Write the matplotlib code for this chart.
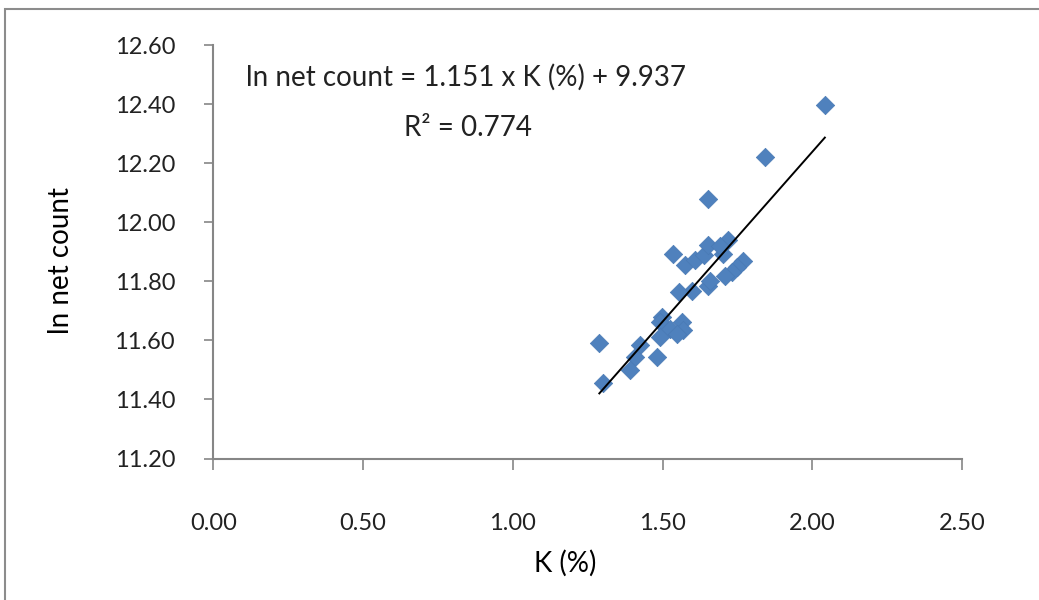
import numpy as np
import matplotlib
matplotlib.use("Agg")
import matplotlib.pyplot as plt
from matplotlib.patches import Rectangle

# K (%) vs ln net count
k_percent = [2.042, 1.843, 1.652, 1.535, 1.575, 1.609, 1.639, 1.652, 1.703,
             1.718, 1.692, 1.768, 1.748, 1.731, 1.709, 1.653, 1.659, 1.598,
             1.556, 1.498, 1.492, 1.564, 1.570, 1.525, 1.548, 1.492, 1.289,
             1.425, 1.408, 1.481, 1.392, 1.301]
ln_net_count = [12.397, 12.221, 12.078, 11.892, 11.855, 11.874, 11.888, 11.922,
                11.894, 11.939, 11.919, 11.869, 11.848, 11.831, 11.817, 11.786,
                11.803, 11.769, 11.764, 11.681, 11.662, 11.662, 11.636, 11.639,
                11.622, 11.611, 11.590, 11.583, 11.543, 11.543, 11.499, 11.455]

# trendline as printed on the chart
SLOPE = 1.151
INTERCEPT = 9.937
R2 = 0.774

x_ticks = [0.0, 0.5, 1.0, 1.5, 2.0, 2.5]
y_ticks = [11.2, 11.4, 11.6, 11.8, 12.0, 12.2, 12.4, 12.6]

FONT = ["Lato", "DejaVu Sans"]
GRAY = "#868686"
TXT = "#222222"

fig = plt.figure(figsize=(10.39, 6.0), dpi=100)
ax = fig.add_axes([0.2053, 0.2358, 0.7206, 0.6887])

ax.scatter(k_percent, ln_net_count, marker="D", s=88, color="#4F81BD",
           edgecolors="#4A7AB5", linewidths=0.5, zorder=3)

xs = np.array([min(k_percent), max(k_percent)])
ax.plot(xs, SLOPE * xs + INTERCEPT, color="black", lw=1.4, zorder=4)

ax.set_xlim(0, 2.5)
ax.set_ylim(11.2, 12.6)
ax.set_xticks(x_ticks)
ax.set_yticks(y_ticks)
ax.set_xticklabels([f"{v:.2f}" for v in x_ticks], family=FONT, fontsize=17,
                   color=TXT)
ax.set_yticklabels([f"{v:.2f}" for v in y_ticks], family=FONT, fontsize=17,
                   color=TXT)
ax.tick_params(axis="x", direction="out", length=8, width=1.2, color=GRAY,
               pad=31)
ax.tick_params(axis="y", direction="out", length=6.5, width=1.2, color=GRAY,
               pad=21)

for side in ("top", "right"):
    ax.spines[side].set_visible(False)
for side in ("left", "bottom"):
    ax.spines[side].set_color(GRAY)
    ax.spines[side].set_linewidth(1.5)

ax.set_xlabel("K (%)", family=FONT, fontsize=20)
ax.set_ylabel("ln net count", family=FONT, fontsize=20)
ax.xaxis.set_label_coords(0.47, -0.222)
ax.yaxis.set_label_coords(-0.186, 0.48)

ax.text(0.3375, 0.923, f"ln net count = {SLOPE:.3f} x K (%) + {INTERCEPT:.3f}",
        transform=ax.transAxes, ha="center", va="center", family=FONT,
        fontsize=20, color=TXT)
ax.text(0.34, 0.80, f"R² = {R2:.3f}", transform=ax.transAxes,
        ha="center", va="center", family=FONT, fontsize=20, color=TXT)

# chart frame from the scanned page
fig.patches.append(Rectangle((5 / 1039, -0.1), 1.2, 1.1 - 9 / 600,
                             transform=fig.transFigure, fill=False,
                             edgecolor="#8c8c8c", lw=1.5))

fig.savefig("out.png", dpi=100)
